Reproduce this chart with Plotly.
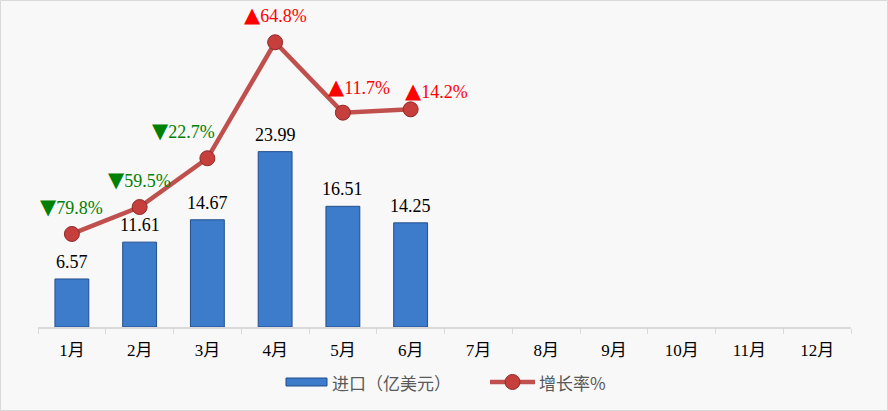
import plotly.graph_objects as go

months = ["1月", "2月", "3月", "4月", "5月", "6月", "7月", "8月", "9月", "10月", "11月", "12月"]
imports = [6.57, 11.61, 14.67, 23.99, 16.51, 14.25, None, None, None, None, None, None]
growth = [-79.8, -59.5, -22.7, 64.8, 11.7, 14.2, None, None, None, None, None, None]
growth_labels = ["▼79.8%", "▼59.5%", "▼22.7%", "▲64.8%", "▲11.7%", "▲14.2%"]
bar_name = "进口（亿美元）"
line_name = "增长率%"

# label offsets (pixels) relative to marker
label_dx = [0, 0, -24, 0, 16, 26]
label_dy = [27, 27, 27, 27, 26, 18]

serif = "Liberation Serif, Times New Roman, Noto Sans CJK SC, serif"
sans = "Noto Sans CJK SC, sans-serif"

fig = go.Figure()
fig.add_trace(go.Bar(
    x=months, y=imports, name=bar_name,
    marker=dict(color="#3D7BCB", line=dict(color="#234F8C", width=1)),
    width=0.5, yaxis="y", showlegend=False,
))
fig.add_trace(go.Scatter(
    x=months, y=growth, name=line_name, mode="lines+markers",
    line=dict(color="#C0504D", width=4.5),
    marker=dict(size=15, color="#C63F3C", line=dict(color="#8E2A28", width=1)),
    yaxis="y2", cliponaxis=False, showlegend=False,
))

for m, v in zip(months, imports):
    if v is None:
        continue
    fig.add_annotation(x=m, y=v, xref="x", yref="y", text=f"{v:.2f}",
                       showarrow=False, yanchor="middle", yshift=17,
                       font=dict(family=serif, size=18, color="#000000"))

for i, lab in enumerate(growth_labels):
    col = "#008000" if lab.startswith("▼") else "#FF0000"
    fig.add_annotation(
        x=months[i], y=growth[i], xref="x", yref="y2",
        text=(f"<span style=\"font-family:'DejaVu Sans';font-size:21px\">{lab[0]}</span>"
              f"{lab[1:]}"),
        showarrow=False, xshift=label_dx[i], yshift=label_dy[i],
        font=dict(family=serif, size=18, color=col),
    )

L, R, T, B = 38, 37, 20, 84
W, H = 888, 411
pw, ph = W - L - R, H - T - B


def px(x):
    return (x - L) / pw


def py(y):
    return (H - B - y) / ph


# chart border
fig.add_shape(type="rect", xref="paper", yref="paper",
              x0=px(0.5), x1=px(W - 0.5), y0=py(H - 0.5), y1=py(0.5),
              line=dict(color="#D9D9D9", width=1), fillcolor="rgba(0,0,0,0)", layer="below")

# custom legend
ly = 382
fig.add_shape(type="rect", xref="paper", yref="paper",
              x0=px(286), x1=px(327), y0=py(386), y1=py(378),
              line=dict(color="#234F8C", width=1), fillcolor="#3D7BCB")
fig.add_shape(type="line", xref="paper", yref="paper",
              x0=px(490), x1=px(535), y0=py(ly), y1=py(ly),
              line=dict(color="#C0504D", width=4.5))
fig.add_shape(type="circle", xref="paper", yref="paper",
              x0=px(505), x1=px(520), y0=py(ly + 7.5), y1=py(ly - 7.5),
              line=dict(color="#8E2A28", width=1), fillcolor="#C63F3C")
fig.add_annotation(xref="paper", yref="paper", x=px(330), y=py(ly), text=bar_name,
                   xanchor="left", yanchor="middle", showarrow=False,
                   font=dict(family=sans, size=17, color="#595959"))
fig.add_annotation(xref="paper", yref="paper", x=px(537), y=py(ly), text=line_name,
                   xanchor="left", yanchor="middle", showarrow=False,
                   font=dict(family=sans, size=17, color="#595959"))

fig.update_layout(
    width=W, height=H,
    margin=dict(l=L, r=R, t=T, b=B),
    paper_bgcolor="#F8F8F8", plot_bgcolor="#F8F8F8",
    showlegend=False,
    xaxis=dict(type="category", categoryorder="array", categoryarray=months,
               range=[-0.5, 11.5], showline=True, linecolor="#D9D9D9", linewidth=1.5,
               ticks="outside", tickson="boundaries", ticklen=5, tickcolor="#D9D9D9",
               tickfont=dict(family=serif, size=17, color="#000000"),
               showgrid=False, ticklabelstandoff=7),
    yaxis=dict(range=[0, 42], visible=False, showgrid=False, zeroline=False),
    yaxis2=dict(range=[-150, 81.6], overlaying="y", side="right", visible=False,
                showgrid=False, zeroline=False),
)

fig.write_html("out.html", config={"displayModeBar": False},
               post_script="document.body.style.margin='0';document.body.style.padding='0';")
